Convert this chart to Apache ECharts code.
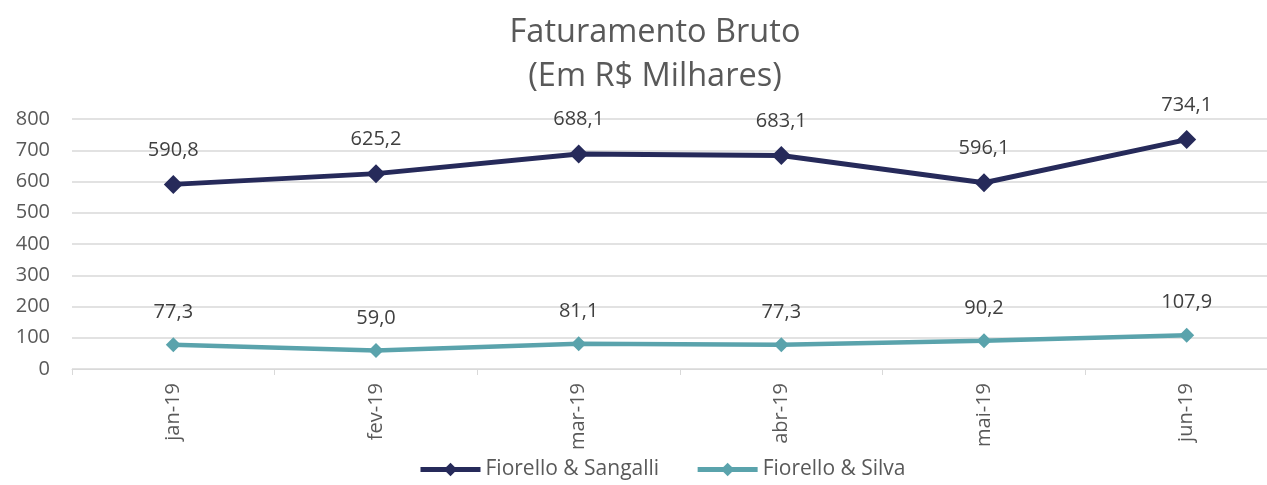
<!DOCTYPE html>
<html>
<head>
<meta charset="utf-8">
<script src="https://cdn.jsdelivr.net/npm/echarts@6/dist/echarts.min.js"></script>
<style>
  html, body { margin: 0; padding: 0; background: #fff; }
  #chart { width: 1267px; height: 485px; }
</style>
</head>
<body>
<div id="chart"></div>
<script>
const months = ['jan-19', 'fev-19', 'mar-19', 'abr-19', 'mai-19', 'jun-19']
const sangalli = [590.8, 625.2, 688.1, 683.1, 596.1, 734.1]
const silva = [77.3, 59.0, 81.1, 77.3, 90.2, 107.9]

const textColor = '#595959'
const font = 'Open Sans'

const chart = echarts.init(document.getElementById('chart'))

const labelOpt = {
  show: true,
  position: 'top',
  distance: 15,
  color: '#404040',
  fontFamily: font,
  fontSize: 20,
  formatter: p => p.value.toFixed(1).replace('.', ',')
}

chart.setOption({
  animation: false,
  backgroundColor: '#fff',
  title: {
    text: 'Faturamento Bruto\n(Em R$ Milhares)',
    left: 650,
    textAlign: 'center',
    top: 6,
    textStyle: {
      color: textColor,
      fontFamily: font,
      fontWeight: 'normal',
      fontSize: 32.5,
      lineHeight: 44
    }
  },
  legend: {
    bottom: 0,
    left: 413,
    itemWidth: 60,
    itemHeight: 17,
    itemGap: 36,
    textStyle: { color: textColor, fontFamily: font, fontSize: 21 },
    data: [
      { name: 'Fiorello & Sangalli', lineStyle: { width: 5 } },
      { name: 'Fiorello & Silva', lineStyle: { width: 5 } }
    ]
  },
  grid: { left: 72, top: 119, width: 1216, height: 250, outerBoundsMode: 'none' },
  xAxis: {
    type: 'category',
    data: months,
    boundaryGap: true,
    axisLine: { lineStyle: { color: '#d9d9d9', width: 1 } },
    axisTick: { show: true, length: 6, lineStyle: { color: '#d9d9d9' } },
    axisLabel: {
      rotate: 90,
      color: textColor,
      fontFamily: font,
      fontSize: 20,
      margin: 14
    }
  },
  yAxis: {
    type: 'value',
    min: 0,
    max: 800,
    interval: 100,
    axisLine: { show: false },
    axisTick: { show: false },
    axisLabel: { color: textColor, fontFamily: font, fontSize: 20, margin: 22 },
    splitLine: { lineStyle: { color: '#d9d9d9', width: 1.5 } }
  },
  series: [
    {
      name: 'Fiorello & Sangalli',
      type: 'line',
      data: sangalli,
      symbol: 'diamond',
      symbolSize: 19,
      lineStyle: { color: '#262a5a', width: 5 },
      itemStyle: { color: '#262a5a' },
      label: labelOpt
    },
    {
      name: 'Fiorello & Silva',
      type: 'line',
      data: silva,
      symbol: 'diamond',
      symbolSize: 15,
      lineStyle: { color: '#5aa3ac', width: 4.5 },
      itemStyle: { color: '#5aa3ac' },
      label: labelOpt
    }
  ]
})
</script>
</body>
</html>
